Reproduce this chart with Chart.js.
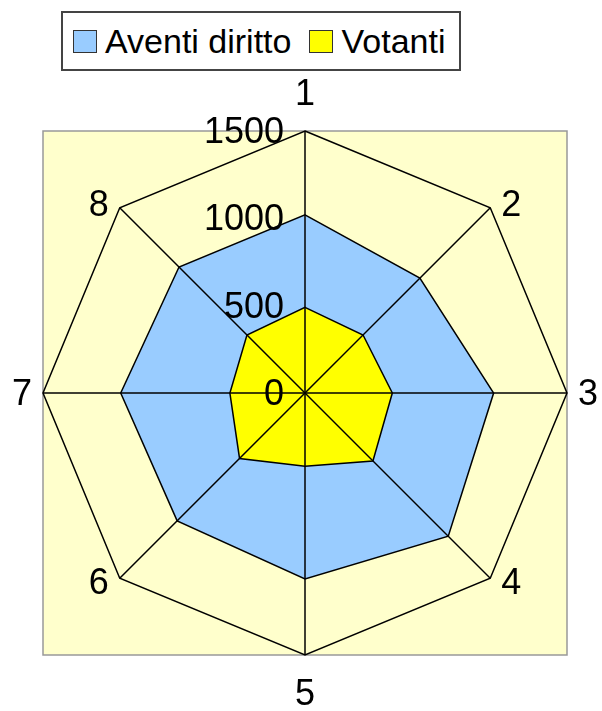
<!DOCTYPE html>
<html>
<head>
<meta charset="utf-8">
<script src="https://cdn.jsdelivr.net/npm/chart.js@4/dist/chart.umd.min.js"></script>
<style>
  html, body { margin: 0; padding: 0; background: #fff; }
  #wrap { position: relative; width: 602px; height: 711px; }
  #legend {
    position: absolute; left: 61px; top: 11px; width: 400px; height: 60px;
    box-sizing: border-box; border: 2px solid #444; background: #fff;
    display: flex; align-items: center; padding-left: 10px; white-space: nowrap;
    font: 34px "Liberation Sans", Arial, sans-serif; color: #000;
  }
  .item { display: flex; align-items: center; margin-right: 18px; }
  .swatch { width: 22px; height: 21px; border: 1px solid #333; margin-right: 8px; }
</style>
</head>
<body>
<div id="wrap">
  <canvas id="chart" width="602" height="711"></canvas>
  <div id="legend"></div>
</div>
<script>
// radar data
const categories = ["1", "2", "3", "4", "5", "6", "7", "8"];
const aventiDiritto = [1020, 930, 1080, 1160, 1065, 1035, 1055, 1020];
const votanti = [490, 470, 500, 550, 420, 530, 430, 470];
const tickValues = [0, 500, 1000, 1500];
const seriesNames = ["Aventi diritto", "Votanti"];
const seriesColors = ["#99ccff", "#ffff00"];

const FONT = '"Liberation Sans", Arial, sans-serif';

// pale square behind the web, sized from the scale
const plotArea = {
  id: "plotArea",
  beforeDraw(chart) {
    const r = chart.scales.r;
    const d = r.drawingArea;
    const ctx = chart.ctx;
    ctx.save();
    ctx.fillStyle = "#ffffcc";
    ctx.fillRect(r.xCenter - d, r.yCenter - d, d * 2, d * 2);
    ctx.strokeStyle = "#999";
    ctx.lineWidth = 1.5;
    ctx.strokeRect(r.xCenter - d, r.yCenter - d, d * 2, d * 2);
    ctx.restore();
  }
};

// Excel-style labels: values left of the vertical spoke,
// category names beside the outer corners
const excelLabels = {
  id: "excelLabels",
  afterDraw(chart) {
    const r = chart.scales.r;
    const ctx = chart.ctx;
    ctx.save();
    ctx.font = "36px " + FONT;
    ctx.fillStyle = "#000";
    ctx.textAlign = "right";
    ctx.textBaseline = "middle";
    r.ticks.forEach((t) => {
      const y = r.yCenter - r.getDistanceFromCenterForValue(t.value);
      ctx.fillText(t.label, r.xCenter - 21, y + 2);
    });

    ctx.textAlign = "center";
    chart.data.labels.forEach((lbl, i) => {
      const p = r.getPointPosition(i, r.drawingArea);
      const a = r.getIndexAngle(i);
      const sx = Math.sin(a);
      const cy = Math.cos(a);
      let x = p.x;
      let y = p.y;
      if (Math.abs(sx) > 0.1) {
        x += Math.sign(sx) * 21;
        y -= cy * 5;
      } else {
        y -= cy * 38;
      }
      ctx.fillText(lbl, x, y + 2);
    });
    ctx.restore();
  }
};

const chart = new Chart(document.getElementById("chart"), {
  type: "radar",
  data: {
    labels: categories,
    datasets: [
      {
        label: seriesNames[0],
        data: aventiDiritto,
        backgroundColor: seriesColors[0],
        borderColor: "#000",
        borderWidth: 1.5,
        fill: true,
        pointRadius: 0,
        order: 2
      },
      {
        label: seriesNames[1],
        data: votanti,
        backgroundColor: seriesColors[1],
        borderColor: "#000",
        borderWidth: 1.5,
        fill: true,
        pointRadius: 0,
        order: 1
      }
    ]
  },
  options: {
    responsive: false,
    animation: false,
    layout: { padding: { top: 131, left: 43, right: 35, bottom: 56 } },
    plugins: {
      legend: { display: false },
      tooltip: { enabled: false }
    },
    scales: {
      r: {
        min: 0,
        max: 1500,
        afterBuildTicks: (s) => {
          s.ticks = tickValues.map((v) => ({ value: v }));
        },
        ticks: { display: false, callback: (v) => String(v) },
        grid: {
          z: 1,
          lineWidth: 1.5,
          color: (c) => (c.tick && c.tick.value === 1500 ? "#000" : "rgba(0,0,0,0)")
        },
        angleLines: { color: "#000", lineWidth: 1.5 },
        pointLabels: { display: false }
      }
    }
  },
  plugins: [plotArea, excelLabels]
});

// boxed legend above the chart
const legend = document.getElementById("legend");
chart.data.datasets.forEach((ds) => {
  const item = document.createElement("div");
  item.className = "item";
  const sw = document.createElement("span");
  sw.className = "swatch";
  sw.style.background = ds.backgroundColor;
  const txt = document.createElement("span");
  txt.textContent = ds.label;
  item.appendChild(sw);
  item.appendChild(txt);
  legend.appendChild(item);
});
</script>
</body>
</html>
